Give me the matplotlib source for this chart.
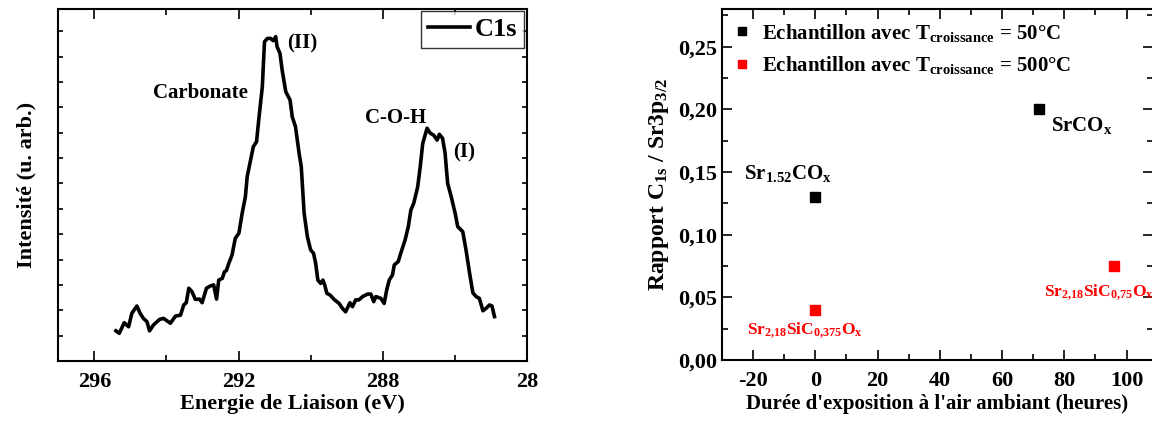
import matplotlib
matplotlib.use('Agg')
import matplotlib.pyplot as plt
from matplotlib.ticker import MultipleLocator, FuncFormatter

plt.rcParams['font.family'] = 'Liberation Serif'
plt.rcParams['font.weight'] = 'bold'
plt.rcParams['axes.labelweight'] = 'bold'
plt.rcParams['axes.unicode_minus'] = False
plt.rcParams['mathtext.fontset'] = 'custom'
plt.rcParams['mathtext.rm'] = 'Liberation Serif:bold'
plt.rcParams['mathtext.it'] = 'Liberation Serif:bold'
plt.rcParams['mathtext.bf'] = 'Liberation Serif:bold'
plt.rcParams['mathtext.default'] = 'rm'

# ----- C1s spectrum (left) -----
energy = [295.40, 295.31, 295.17, 295.05, 294.96, 294.82, 294.73, 294.64, 294.54, 294.47,
          294.36, 294.19, 294.08, 293.89, 293.75, 293.61, 293.52, 293.45, 293.38, 293.29,
          293.20, 293.08, 293.01, 292.89, 292.78, 292.69, 292.61, 292.55, 292.45, 292.39,
          292.34, 292.27, 292.18, 292.09, 291.99, 291.90, 291.81, 291.76, 291.59, 291.50,
          291.44, 291.34, 291.28, 291.20, 291.11, 291.04, 290.97, 290.93, 290.85, 290.79,
          290.69, 290.57, 290.51, 290.42, 290.32, 290.26, 290.18, 290.09, 290.00, 289.92,
          289.86, 289.80, 289.72, 289.66, 289.61, 289.55, 289.46, 289.35, 289.21, 289.12,
          289.03, 288.91, 288.84, 288.75, 288.66, 288.56, 288.42, 288.33, 288.25, 288.19,
          288.05, 287.96, 287.89, 287.82, 287.73, 287.68, 287.57, 287.50, 287.38, 287.29,
          287.22, 287.14, 287.03, 286.96, 286.89, 286.77, 286.68, 286.59, 286.49, 286.43,
          286.34, 286.27, 286.20, 286.10, 285.99, 285.92, 285.78, 285.69, 285.59, 285.50,
          285.41, 285.32, 285.22, 285.13, 285.04, 284.97, 284.90]
intensity = [1.19, 1.09, 1.51, 1.35, 1.88, 2.17, 1.88, 1.68, 1.55, 1.19,
             1.42, 1.64, 1.68, 1.49, 1.77, 1.81, 2.21, 2.30, 2.87, 2.73,
             2.43, 2.44, 2.30, 2.87, 2.96, 3.00, 2.44, 3.19, 3.26, 3.52,
             3.56, 3.85, 4.18, 4.84, 5.04, 5.82, 6.48, 7.27, 8.45, 8.65,
             9.50, 10.82, 12.59, 12.72, 12.72, 12.63, 12.79, 12.39, 12.13, 11.47,
             10.62, 10.29, 9.63, 9.24, 8.19, 7.66, 5.82, 4.90, 4.38, 4.25,
             3.85, 3.19, 3.06, 3.19, 3.00, 2.67, 2.60, 2.43, 2.27, 2.08,
             1.94, 2.30, 2.14, 2.41, 2.41, 2.54, 2.64, 2.64, 2.34, 2.54,
             2.47, 2.27, 2.80, 3.19, 3.39, 3.79, 3.92, 4.25, 4.77, 5.30,
             5.95, 6.22, 6.87, 7.66, 8.58, 9.18, 8.98, 8.91, 8.71, 8.94,
             8.78, 8.19, 7.01, 6.48, 5.82, 5.30, 5.10, 4.38, 3.46, 2.69,
             2.54, 2.47, 1.98, 2.08, 2.21, 2.17, 1.75]
energy_ticks = [296, 292, 288, 284]
energy_labels = ['296', '292', '288', '28']

# ----- C1s / Sr3p ratio (right) -----
hours_50 = [0, 72]
ratio_50 = [0.13, 0.20]
hours_500 = [0, 96]
ratio_500 = [0.04, 0.075]

fig = plt.figure(figsize=(11.52, 4.21), dpi=100)

# left panel
ax1 = fig.add_axes([0.0506, 0.1425, 0.4068, 0.8373])
ax1.plot(energy, intensity, color='black', lw=2.6, label='C1s')
ax1.set_xlim(297, 284)
ax1.set_ylim(0, 13.9)
ax1.set_xticks(energy_ticks)
ax1.set_xticklabels(energy_labels)
ax1.xaxis.set_minor_locator(MultipleLocator(2))
ax1.yaxis.set_major_locator(MultipleLocator(1))
ax1.set_yticklabels([])
ax1.tick_params(which='both', direction='in', top=True, right=True, width=1.2)
ax1.tick_params(axis='x', which='major', length=7, labelsize=16, pad=8)
ax1.tick_params(axis='x', which='minor', length=4)
ax1.tick_params(axis='y', which='major', length=3.5)
ax1.set_xlabel('Energie de Liaison (eV)', fontsize=16, labelpad=1)
ax1.set_ylabel('Intensité (u. arb.)', fontsize=16, labelpad=12)
for sp in ax1.spines.values():
    sp.set_linewidth(1.5)
ax1.text(294.37, 10.57, 'Carbonate', fontsize=15, va='center', ha='left')
ax1.text(290.66, 12.54, '(II)', fontsize=15, va='center', ha='left')
ax1.text(288.5, 9.58, 'C-O-H', fontsize=15, va='center', ha='left')
ax1.text(286.05, 8.24, '(I)', fontsize=15, va='center', ha='left')
leg1 = ax1.legend(loc='upper right', fontsize=19, handlelength=1.6, handletextpad=0.2,
                  borderpad=0.25, borderaxespad=0.1, fancybox=False)
leg1.get_frame().set_edgecolor('black')
leg1.get_frame().set_linewidth(1.0)

# right panel
ax2 = fig.add_axes([0.6267, 0.1449, 0.3742, 0.8337])
ax2.plot(hours_50, ratio_50, 's', color='black', ms=7,
         label='Echantillon avec T$_{croissance}$ = 50°C')
ax2.plot(hours_500, ratio_500, 's', color='red', ms=7,
         label='Echantillon avec T$_{croissance}$ = 500°C')
ax2.set_xlim(-30, 108.5)
ax2.set_ylim(0, 0.28)
ax2.xaxis.set_major_locator(MultipleLocator(20))
ax2.xaxis.set_minor_locator(MultipleLocator(10))
ax2.yaxis.set_major_locator(MultipleLocator(0.05))
ax2.yaxis.set_minor_locator(MultipleLocator(0.025))
ax2.yaxis.set_major_formatter(FuncFormatter(lambda v, p: f'{v:.2f}'.replace('.', ',')))
ax2.tick_params(which='both', direction='in', top=True, right=True, width=1.2)
ax2.tick_params(which='major', length=7, labelsize=16)
ax2.tick_params(axis='x', which='major', pad=8)
ax2.tick_params(which='minor', length=4)
for sp in ax2.spines.values():
    sp.set_linewidth(1.5)
ax2.set_xlabel("Durée d'exposition à l'air ambiant (heures)", fontsize=15, labelpad=2)
ax2.set_ylabel('Rapport C$_{1s}$ / Sr3p$_{3/2}$', fontsize=17, labelpad=5)
ax2.text(-23, 0.149, 'Sr$_{1.52}$CO$_x$', fontsize=15, va='center', ha='left')
ax2.text(75.7, 0.187, 'SrCO$_x$', fontsize=15, va='center', ha='left')
ax2.text(-22, 0.024, 'Sr$_{2{,}18}$SiC$_{0{,}375}$O$_x$', fontsize=12.5, va='center', ha='left',
         color='red')
ax2.text(73.5, 0.054, 'Sr$_{2{,}18}$SiC$_{0{,}75}$O$_x$', fontsize=12.5, va='center', ha='left',
         color='red')
ax2.legend(loc='upper left', fontsize=15, frameon=False, handlelength=0.7, handletextpad=0.6,
           borderaxespad=0.2, labelspacing=0.5, markerscale=0.85)

fig.savefig('out.png', dpi=100)
